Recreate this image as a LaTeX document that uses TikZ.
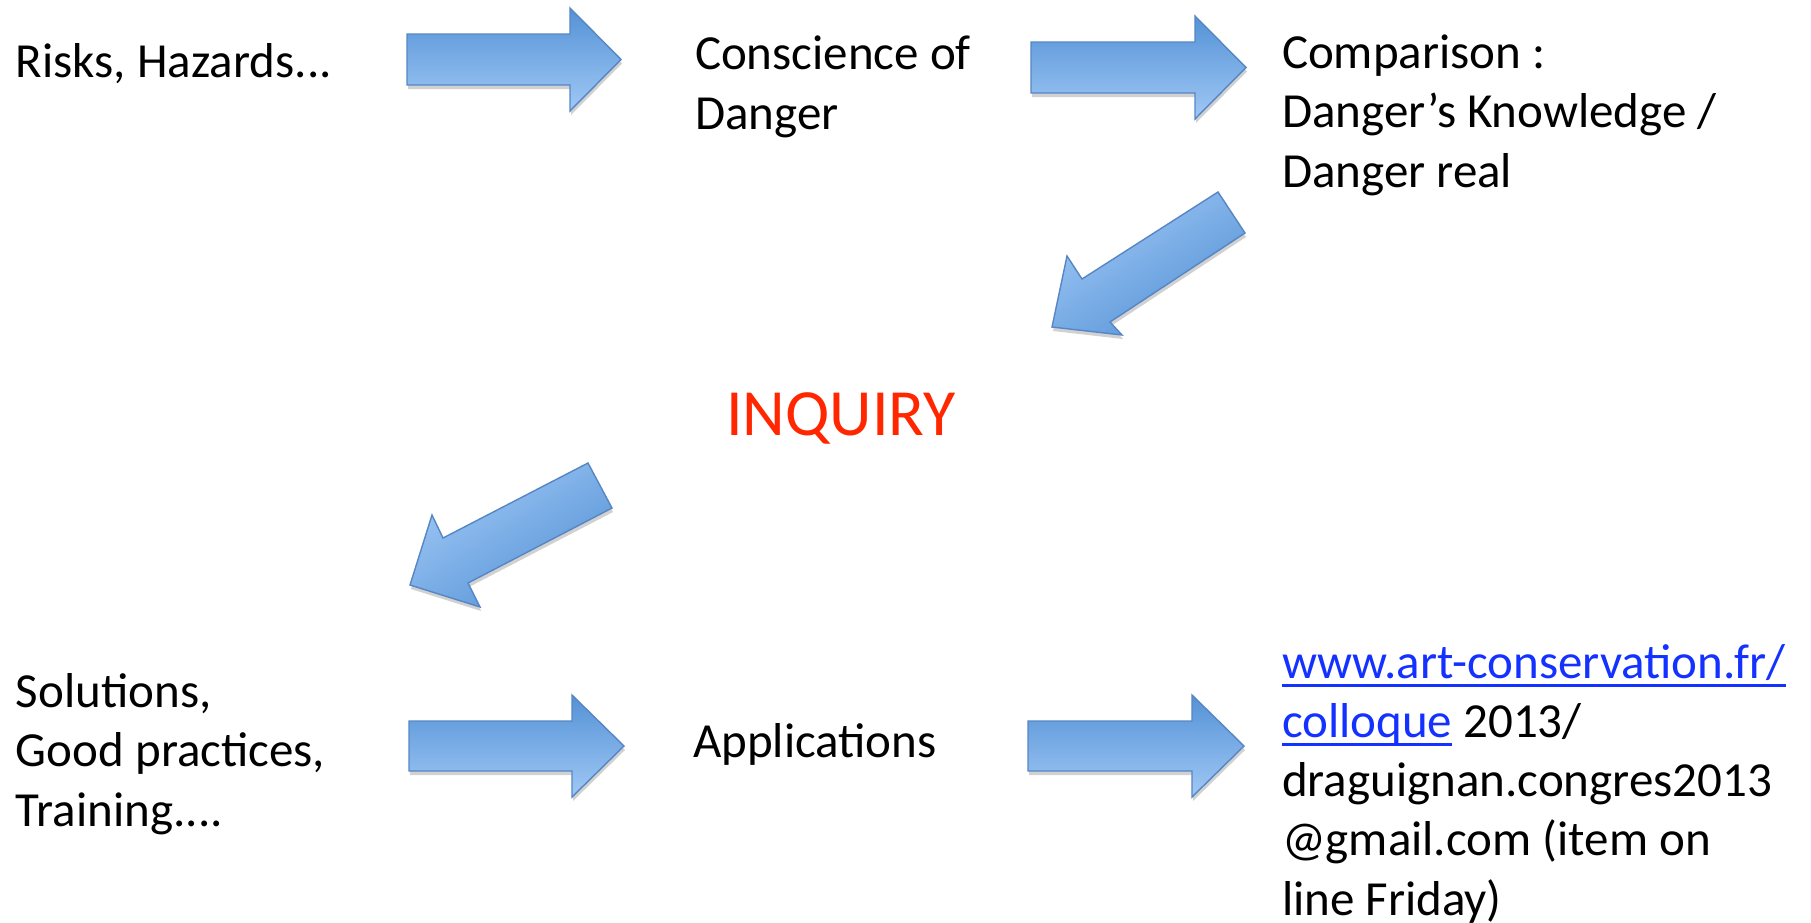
\documentclass[tikz,border=0pt]{standalone}
\usepackage{fontspec}
\setmainfont{Carlito}
\usetikzlibrary{shadows}
\definecolor{arrowdark}{RGB}{84,146,214}
\definecolor{arrowlight}{RGB}{160,200,245}
\definecolor{arrowedge}{RGB}{86,135,196}
\definecolor{inqred}{RGB}{255,38,0}
\definecolor{linkblue}{RGB}{20,50,255}
\newcommand\ulink[1]{{\color{linkblue}\setbox0\hbox{#1}\rlap{\rule[-9pt]{\wd0}{3pt}}\box0}}
\tikzset{
  blockarrow/.style={draw=arrowedge, line width=1.4pt, line join=miter,
    drop shadow={shadow xshift=1pt, shadow yshift=-4pt, opacity=0.18, fill=black}},
  harrow/.style={blockarrow, top color=arrowdark, bottom color=arrowlight},
  darrow/.style={blockarrow, top color=arrowdark, bottom color=arrowlight, shading angle=-147},
  txt/.style={inner sep=0pt, outer sep=0pt, anchor=base west, align=left,
    font=\fontsize{49}{59.2}\selectfont},
}
\begin{document}
\begin{tikzpicture}[x=1pt, y=-1pt]
\useasboundingbox[fill=white] (0,0) rectangle (1811,922);

% horizontal block arrows
\path[harrow] (407,34) -- (570,34) -- (570,8) -- (621,59.5) -- (570,111) -- (570,85) -- (407,85) -- cycle;
\path[harrow] (1031,42) -- (1195,42) -- (1195,16) -- (1246,67.5) -- (1195,119) -- (1195,93) -- (1031,93) -- cycle;
\path[harrow] (409,721) -- (572,721) -- (572,695) -- (624,746) -- (572,797) -- (572,771) -- (409,771) -- cycle;
\path[harrow] (1028,721) -- (1192,721) -- (1192,695) -- (1244,746) -- (1192,797) -- (1192,771) -- (1028,771) -- cycle;

% diagonal block arrows
\path[darrow] (1218,192) -- (1245,233) -- (1110,322) -- (1122,335) -- (1052,327) -- (1067,256) -- (1082,279) -- cycle;
\path[darrow] (588,463) -- (612,508) -- (468,583) -- (480,607) -- (410,585) -- (432,515) -- (443,538) -- cycle;

% texts (base anchor = baseline of the last line)
\node[txt] (risks) at (16,77) {Risks, Hazards...};
\node[txt] (consc) at (695,129) {Conscience of\\Danger};
\node[txt] (comp) at (1282,187) {Comparison :\\Danger’s Knowledge /\\Danger real};
\node[inner sep=0pt, anchor=base west, font=\fontsize{66}{79}\selectfont, text=inqred] (inq) at (726,435) {INQUIRY};
\node[txt] (sol) at (16,826) {Solutions,\\Good practices,\\Training....};
\node[txt] (appl) at (693,757) {Applications};
\node[txt] (url) at (1282,915) {\ulink{www.art-conservation.fr/}\\\ulink{colloque} 2013/\\draguignan.congres2013\\@gmail.com (item on\\line Friday)};
\end{tikzpicture}
\end{document}
